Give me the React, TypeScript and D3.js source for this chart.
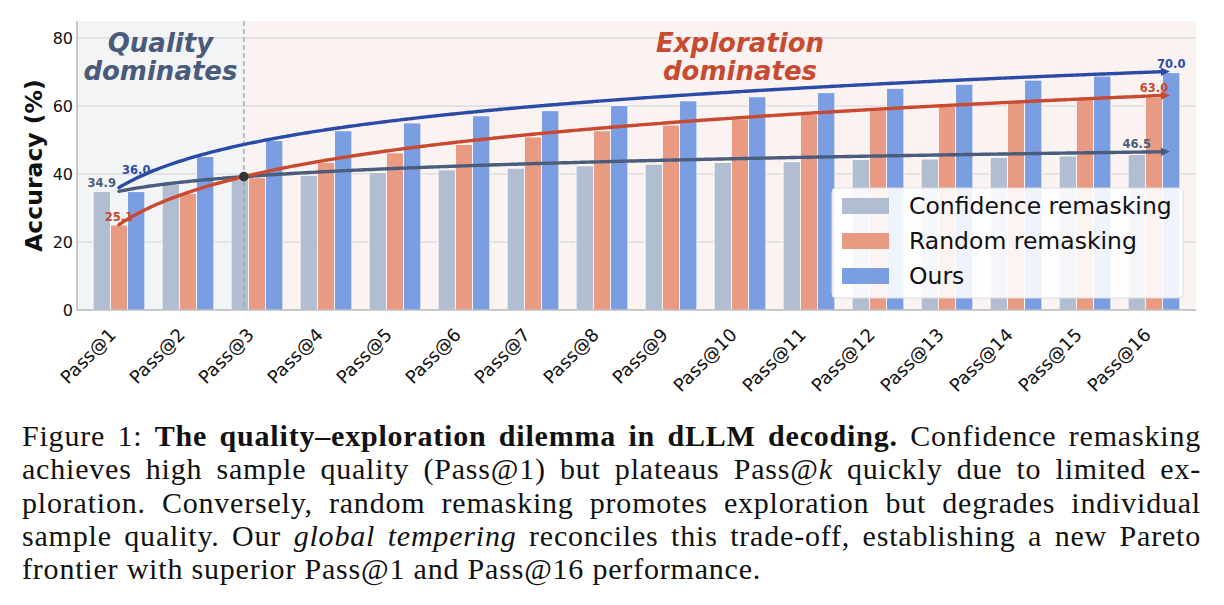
import React from 'react';
import * as d3 from 'd3';

// ---- data -------------------------------------------------------------
const categories = [
  'Pass@1', 'Pass@2', 'Pass@3', 'Pass@4', 'Pass@5', 'Pass@6', 'Pass@7', 'Pass@8',
  'Pass@9', 'Pass@10', 'Pass@11', 'Pass@12', 'Pass@13', 'Pass@14', 'Pass@15', 'Pass@16',
];
const confidenceRemasking = [34.8, 37.0, 38.3, 39.6, 40.4, 41.2, 41.7, 42.4, 42.9, 43.4, 43.6, 44.3, 44.4, 44.9, 45.3, 45.7];
const randomRemasking = [25.0, 34.3, 38.9, 43.4, 46.2, 48.7, 50.9, 52.7, 54.4, 56.2, 57.5, 58.8, 59.8, 61.0, 62.0, 62.6];
const oursValues = [34.8, 45.1, 49.8, 52.7, 55.0, 57.1, 58.6, 60.1, 61.5, 62.7, 63.9, 65.2, 66.4, 67.6, 68.8, 69.8];
const seriesNames = ['Confidence remasking', 'Random remasking', 'Ours'];
// log-trend values at Pass@1 and Pass@16 for each series
const trendFirst = [34.9, 25.1, 36.0];
const trendLast = [46.5, 63.0, 70.0];
const yTicks = [0, 20, 40, 60, 80];

// ---- styling ----------------------------------------------------------
const W = 1224;
const H = 605;
const plot = { left: 77, right: 1196, top: 21, bottom: 310 };
const barColors = ['#b1bdd0', '#e99a82', '#7b9de2'];
const lineColors = ['#4b5d7d', '#c94a30', '#2b4ca6'];
const SANS = '"DejaVu Sans", Verdana, sans-serif';

// ---- caption ----------------------------------------------------------
type Run = { t: string; b?: boolean; i?: boolean };
const captionLines: Run[][] = [
  [{ t: 'Figure 1: ' }, { t: 'The quality\u2013exploration dilemma in dLLM decoding.', b: true }, { t: ' Confidence remasking' }],
  [{ t: 'achieves high sample quality (Pass@1) but plateaus Pass@' }, { t: 'k', i: true }, { t: ' quickly due to limited ex-' }],
  [{ t: 'ploration. Conversely, random remasking promotes exploration but degrades individual' }],
  [{ t: 'sample quality. Our ' }, { t: 'global tempering', i: true }, { t: ' reconciles this trade-off, establishing a new Pareto' }],
  [{ t: 'frontier with superior Pass@1 and Pass@16 performance.' }],
];
const CAP_FONT = '"Liberation Serif", "Times New Roman", serif';
const CAP_SIZE = 30;
const CAP_LS = 0.8;
const CAP_LEFT = 22;
const CAP_RIGHT = 1201;
const CAP_BASE = 446;
const CAP_STEP = 33.3;

let measureCtx: CanvasRenderingContext2D | null = null;
function runWidth(r: Run): number {
  if (!measureCtx) measureCtx = document.createElement('canvas').getContext('2d');
  if (!measureCtx) return r.t.length * CAP_SIZE * 0.45;
  measureCtx.font = `${r.i ? 'italic ' : ''}${r.b ? 'bold ' : ''}${CAP_SIZE}px ${CAP_FONT}`;
  return measureCtx.measureText(r.t).width + r.t.length * CAP_LS;
}

function toWords(runs: Run[]): Run[][] {
  const words: Run[][] = [];
  let cur: Run[] = [];
  runs.forEach((r) => {
    const parts = r.t.split(' ');
    parts.forEach((p, k) => {
      if (k > 0) {
        if (cur.length) words.push(cur);
        cur = [];
      }
      if (p) cur.push({ ...r, t: p });
    });
  });
  if (cur.length) words.push(cur);
  return words;
}

function Caption() {
  return (
    <g fontFamily={CAP_FONT} fontSize={CAP_SIZE} letterSpacing={CAP_LS} fill="#111">
      {captionLines.map((line, li) => {
        const words = toWords(line);
        const widths = words.map((w) => d3.sum(w, runWidth));
        const total = d3.sum(widths);
        const isLast = li === captionLines.length - 1;
        const gap = isLast
          ? runWidth({ t: ' ' })
          : (CAP_RIGHT - CAP_LEFT - total) / Math.max(1, words.length - 1);
        let x = CAP_LEFT;
        const y = CAP_BASE + li * CAP_STEP;
        return words.map((w, wi) => {
          const wx = x;
          x += widths[wi] + gap;
          return (
            <text key={`${li}-${wi}`} x={wx} y={y}>
              {w.map((p, pi) => (
                <tspan key={pi} fontWeight={p.b ? 'bold' : 'normal'} fontStyle={p.i ? 'italic' : 'normal'}>
                  {p.t}
                </tspan>
              ))}
            </text>
          );
        });
      })}
    </g>
  );
}

// ---- chart ------------------------------------------------------------
export default function App() {
  const series = [confidenceRemasking, randomRemasking, oursValues];

  const x0 = d3
    .scaleBand<string>()
    .domain(categories)
    .range([plot.left, plot.right])
    .paddingInner(0.25)
    .paddingOuter(0.2335);
  const x1 = d3.scaleBand<string>().domain(seriesNames).range([0, x0.bandwidth()]);
  const center = (i: number) => (x0(categories[i]) as number) + x0.bandwidth() / 2;
  const xIdx = d3.scaleLinear().domain([0, categories.length - 1]).range([center(0), center(categories.length - 1)]);
  const y = d3.scaleLinear().domain([0, 85]).range([plot.bottom, plot.top]);

  const lnMax = Math.log(categories.length);
  const trend = (s: number, idx: number) =>
    trendFirst[s] + (trendLast[s] - trendFirst[s]) * (Math.log(idx + 1) / lnMax);

  // crossover of the confidence and random trends
  const tCross =
    (trendFirst[0] - trendFirst[1]) /
    (trendLast[1] - trendFirst[1] - (trendLast[0] - trendFirst[0]));
  const idxCross = Math.pow(categories.length, tCross) - 1;
  const xCross = xIdx(idxCross);
  const yCross = y(trend(0, idxCross));

  const lineEnd = categories.length - 1 + 0.1;
  const samples = d3.range(0, lineEnd + 1e-9, 0.05).concat([lineEnd]);
  const lineGen = d3
    .line<[number, number]>()
    .x((d) => d[0])
    .y((d) => d[1])
    .curve(d3.curveMonotoneX);

  const arrowHead = (s: number) => {
    const ex = xIdx(lineEnd);
    const ey = y(trend(s, lineEnd));
    const slope = (trendLast[s] - trendFirst[s]) / (lnMax * (lineEnd + 1));
    const dx = xIdx(1) - xIdx(0);
    const dy = -(y(0) - y(slope));
    const len = Math.hypot(dx, dy);
    const ux = dx / len;
    const uy = dy / len;
    const L = 9;
    const hw = 4.2;
    const tip = [ex + ux * L, ey + uy * L];
    const a = [ex - uy * hw, ey + ux * hw];
    const b = [ex + uy * hw, ey - ux * hw];
    return `M${tip[0]},${tip[1]}L${a[0]},${a[1]}L${b[0]},${b[1]}Z`;
  };

  const barW = x1.bandwidth();
  const lastC = categories.length - 1;

  // start / end value labels placed over the matching bar slot
  const startLabels = [
    { s: 0, x: center(0) - barW, dy: -4 },
    { s: 1, x: center(0), dy: -4 },
    { s: 2, x: center(0) + barW, dy: -14 },
  ];
  const endLabels = [
    { s: 0, x: center(lastC) - barW, dy: -4 },
    { s: 1, x: center(lastC), dy: -4 },
    { s: 2, x: center(lastC) + barW, dy: -4 },
  ];

  const legend = { x: 832, y: 188, w: 351, h: 110 };

  return (
    <div style={{ position: 'absolute', left: 0, top: 0 }}>
      <svg width={W} height={H} style={{ display: 'block', background: '#fff' }}>
        {/* regime shading */}
        <rect x={plot.left} y={plot.top} width={xCross - plot.left} height={plot.bottom - plot.top} fill="#f3f4f6" />
        <rect x={xCross} y={plot.top} width={plot.right - xCross} height={plot.bottom - plot.top} fill="#fbf3f1" />

        {/* grid */}
        {yTicks.map((t) => (
          <line key={t} x1={plot.left} x2={plot.right} y1={y(t)} y2={y(t)} stroke="#d2d2d2" strokeWidth={1.2} />
        ))}

        {/* bars */}
        {series.map((vals, s) =>
          vals.map((v, i) => (
            <rect
              key={`${s}-${i}`}
              x={(x0(categories[i]) as number) + (x1(seriesNames[s]) as number)}
              y={y(v)}
              width={barW}
              height={y(0) - y(v)}
              fill={barColors[s]}
              stroke="#ffffff"
              strokeWidth={0.8}
            />
          ))
        )}

        {/* regime divider */}
        <line x1={xCross} x2={xCross} y1={plot.top} y2={plot.bottom} stroke="#a8a8a8" strokeWidth={1.4} strokeDasharray="5,3" />

        {/* spines */}
        <line x1={plot.left} x2={plot.left} y1={plot.top} y2={plot.bottom} stroke="#aaaaaa" strokeWidth={1.2} />
        <line x1={plot.left} x2={plot.right} y1={plot.bottom} y2={plot.bottom} stroke="#aaaaaa" strokeWidth={1.2} />

        {/* regime titles */}
        <g fontFamily={SANS} fontWeight="bold" fontStyle="italic" fontSize={26} textAnchor="middle">
          <text x={(plot.left + xCross) / 2} y={51.5} fill="#4a5b7a">Quality</text>
          <text x={(plot.left + xCross) / 2} y={80} fill="#4a5b7a">dominates</text>
          <text x={xIdx(9)} y={51.5} fill="#c84b31">Exploration</text>
          <text x={xIdx(9)} y={80} fill="#c84b31">dominates</text>
        </g>

        {/* trend curves */}
        {[0, 1, 2].map((s) => (
          <g key={`trend-${s}`}>
            <path
              d={lineGen(samples.map((t) => [xIdx(t), y(trend(s, t))] as [number, number])) || ''}
              fill="none"
              stroke={lineColors[s]}
              strokeWidth={3.4}
              strokeLinecap="round"
            />
            <path d={arrowHead(s)} fill={lineColors[s]} />
          </g>
        ))}

        {/* crossover marker */}
        <circle cx={xCross} cy={yCross} r={4.8} fill="#333333" />

        {/* value labels */}
        <g fontFamily={SANS} fontWeight="bold" fontSize={11.5} textAnchor="middle">
          {startLabels.map((l) => (
            <text key={`s${l.s}`} x={l.x} y={y(trendFirst[l.s]) + l.dy} fill={lineColors[l.s]}>
              {trendFirst[l.s].toFixed(1)}
            </text>
          ))}
          {endLabels.map((l) => (
            <text key={`e${l.s}`} x={l.x} y={y(trendLast[l.s]) + l.dy} fill={lineColors[l.s]}>
              {trendLast[l.s].toFixed(1)}
            </text>
          ))}
        </g>

        {/* y axis */}
        <g fontFamily={SANS} fontSize={16} fill="#111">
          {yTicks.map((t) => (
            <text key={t} x={plot.left - 4} y={y(t)} dy="0.35em" textAnchor="end">
              {t}
            </text>
          ))}
        </g>
        <text
          transform={`translate(42,${(plot.top + plot.bottom) / 2}) rotate(-90)`}
          textAnchor="middle"
          fontFamily={SANS}
          fontWeight="bold"
          fontSize={23.5}
          fill="#111"
        >
          Accuracy (%)
        </text>

        {/* x axis */}
        <g fontFamily={SANS} fontSize={18} fill="#111">
          {categories.map((c, i) => (
            <text key={c} transform={`translate(${center(i) - 2},336) rotate(-45)`} textAnchor="end">
              {c}
            </text>
          ))}
        </g>

        {/* legend */}
        <g>
          <rect x={legend.x} y={legend.y} width={legend.w} height={legend.h} rx={4} fill="#ffffff" fillOpacity={0.88} stroke="#dddddd" strokeWidth={1} />
          {seriesNames.map((n, s) => (
            <g key={n}>
              <rect x={842} y={198 + s * 35} width={47} height={16} fill={barColors[s]} />
              <text x={909} y={213.5 + s * 35} fontFamily={SANS} fontSize={23.5} fill="#111">
                {n}
              </text>
            </g>
          ))}
        </g>

        <Caption />
      </svg>
    </div>
  );
}
